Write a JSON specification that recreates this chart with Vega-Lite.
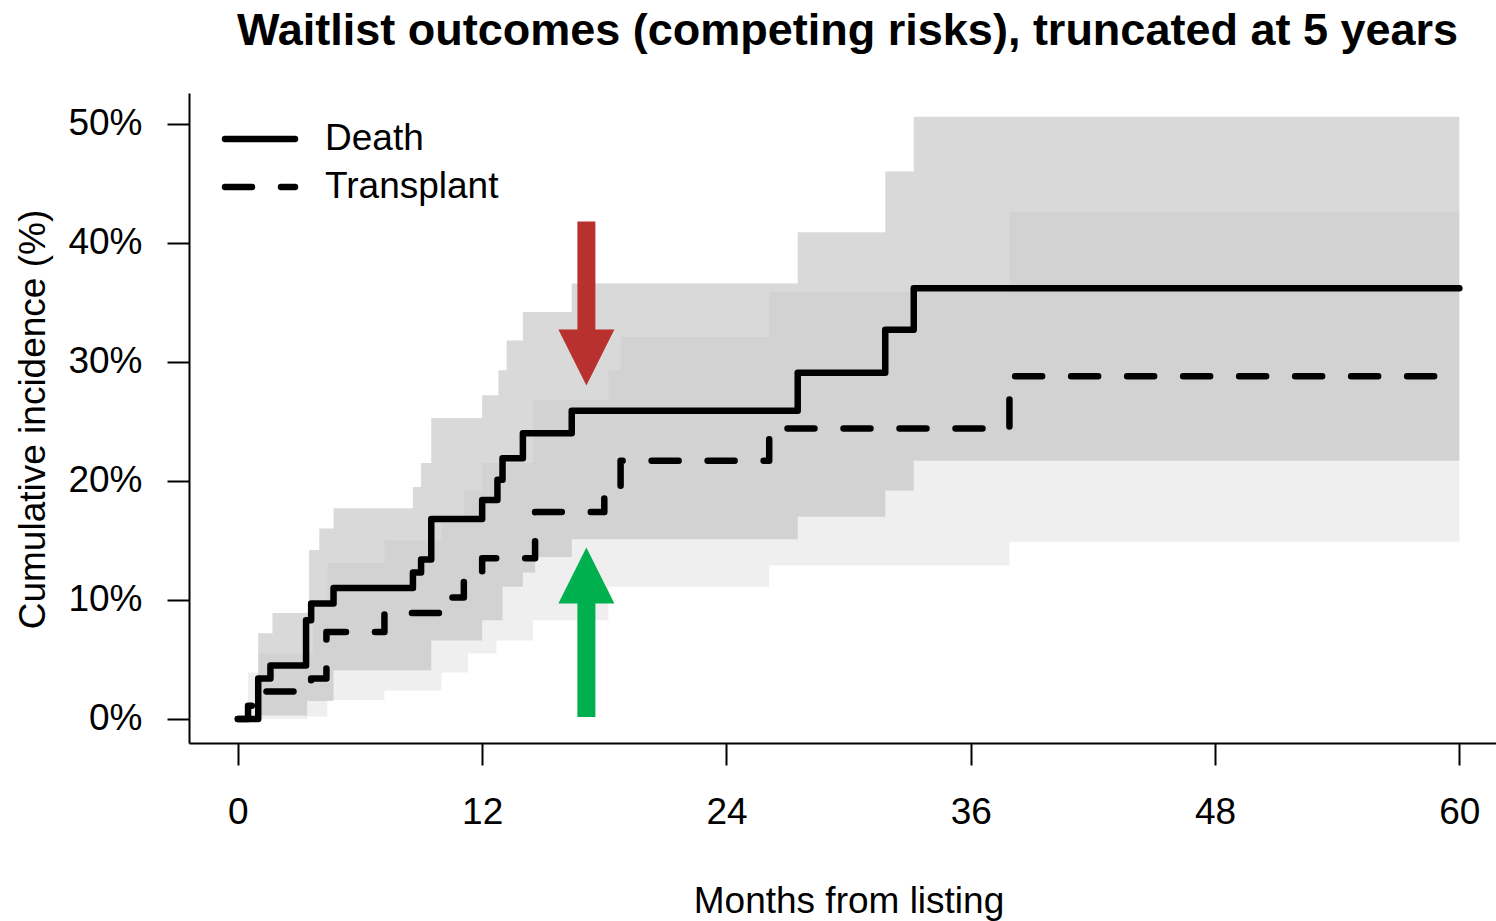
{
  "$schema": "https://vega.github.io/schema/vega-lite/v6.json",
  "width": 1307,
  "height": 650,
  "autosize": {"type": "none"},
  "padding": {"left": 189, "top": 93, "right": 0, "bottom": 178},
  "background": "white",
  "title": {
    "text": "Waitlist outcomes (competing risks), truncated at 5 years",
    "font": "Liberation Sans",
    "fontSize": 45,
    "fontWeight": "bold",
    "color": "black",
    "anchor": "middle",
    "frame": "group",
    "offset": 39,
    "dx": 5
  },
  "config": {
    "view": {"stroke": null},
    "font": "Liberation Sans",
    "axis": {
      "grid": false,
      "domainColor": "black",
      "domainWidth": 2,
      "tickColor": "black",
      "tickWidth": 2,
      "tickSize": 22,
      "labelFont": "Liberation Sans",
      "labelFontSize": 37,
      "labelColor": "black",
      "titleFont": "Liberation Sans",
      "titleFontSize": 37,
      "titleFontWeight": "normal",
      "titleColor": "black"
    }
  },
  "datasets": {
    "deathBand": [
      {"t": 0, "lo": 0, "hi": 0},
      {"t": 1.0, "lo": 0.3, "hi": 7.2},
      {"t": 1.7, "lo": 0.3, "hi": 8.9},
      {"t": 3.4, "lo": 1.5, "hi": 8.9},
      {"t": 3.5, "lo": 1.5, "hi": 14.2},
      {"t": 4.0, "lo": 1.5, "hi": 16.0},
      {"t": 4.7, "lo": 4.1, "hi": 17.7},
      {"t": 8.6, "lo": 4.1, "hi": 19.5},
      {"t": 9.0, "lo": 4.1, "hi": 21.5},
      {"t": 9.5, "lo": 6.6, "hi": 25.3},
      {"t": 12.0, "lo": 8.3, "hi": 27.2},
      {"t": 12.8, "lo": 8.3, "hi": 29.3},
      {"t": 13.0, "lo": 11.1, "hi": 29.3},
      {"t": 13.2, "lo": 11.1, "hi": 31.8},
      {"t": 14.0, "lo": 12.3, "hi": 34.2},
      {"t": 14.6, "lo": 13.6, "hi": 34.2},
      {"t": 16.4, "lo": 15.1, "hi": 36.6},
      {"t": 27.5, "lo": 17.0, "hi": 40.9},
      {"t": 31.8, "lo": 19.2, "hi": 46.0},
      {"t": 33.2, "lo": 21.7, "hi": 50.6},
      {"t": 60, "lo": 21.7, "hi": 50.6}
    ],
    "txBand": [
      {"t": 0, "lo": 0, "hi": 0},
      {"t": 0.5, "lo": 0, "hi": 3.9},
      {"t": 1.0, "lo": 0, "hi": 5.5},
      {"t": 3.4, "lo": 0.2, "hi": 5.5},
      {"t": 3.7, "lo": 0.2, "hi": 9.5},
      {"t": 4.4, "lo": 1.6, "hi": 13.1},
      {"t": 7.2, "lo": 2.4, "hi": 15.0},
      {"t": 10.0, "lo": 3.9, "hi": 17.0},
      {"t": 11.1, "lo": 3.9, "hi": 19.2},
      {"t": 11.3, "lo": 5.5, "hi": 19.2},
      {"t": 12.0, "lo": 5.5, "hi": 21.5},
      {"t": 12.7, "lo": 6.6, "hi": 21.5},
      {"t": 14.5, "lo": 8.3, "hi": 26.8},
      {"t": 18.2, "lo": 11.1, "hi": 29.3},
      {"t": 18.8, "lo": 11.1, "hi": 32.1},
      {"t": 26.1, "lo": 12.9, "hi": 35.9},
      {"t": 37.9, "lo": 14.9, "hi": 42.6},
      {"t": 60, "lo": 14.9, "hi": 42.6}
    ],
    "curves": [
      {"series": "Death", "t": 0, "ci": 0},
      {"series": "Death", "t": 1.0, "ci": 3.4},
      {"series": "Death", "t": 1.6, "ci": 4.5},
      {"series": "Death", "t": 3.35, "ci": 8.3},
      {"series": "Death", "t": 3.6, "ci": 9.7},
      {"series": "Death", "t": 4.7, "ci": 11.0},
      {"series": "Death", "t": 8.6, "ci": 12.3},
      {"series": "Death", "t": 9.0, "ci": 13.4},
      {"series": "Death", "t": 9.5, "ci": 16.8},
      {"series": "Death", "t": 12.0, "ci": 18.4},
      {"series": "Death", "t": 12.75, "ci": 20.1},
      {"series": "Death", "t": 13.0, "ci": 21.9},
      {"series": "Death", "t": 14.0, "ci": 24.0},
      {"series": "Death", "t": 16.4, "ci": 25.9},
      {"series": "Death", "t": 27.5, "ci": 29.1},
      {"series": "Death", "t": 31.8, "ci": 32.7},
      {"series": "Death", "t": 33.2, "ci": 36.2},
      {"series": "Death", "t": 60, "ci": 36.2},
      {"series": "Transplant", "t": 0, "ci": 0},
      {"series": "Transplant", "t": 0.5, "ci": 1.1},
      {"series": "Transplant", "t": 1.0, "ci": 2.3},
      {"series": "Transplant", "t": 3.6, "ci": 3.4},
      {"series": "Transplant", "t": 4.35, "ci": 7.3},
      {"series": "Transplant", "t": 7.2, "ci": 8.9},
      {"series": "Transplant", "t": 10.1, "ci": 10.2},
      {"series": "Transplant", "t": 11.1, "ci": 11.9},
      {"series": "Transplant", "t": 12.0, "ci": 13.5},
      {"series": "Transplant", "t": 14.6, "ci": 17.4},
      {"series": "Transplant", "t": 18.0, "ci": 18.7},
      {"series": "Transplant", "t": 18.8, "ci": 21.7},
      {"series": "Transplant", "t": 26.1, "ci": 24.4},
      {"series": "Transplant", "t": 37.9, "ci": 28.8},
      {"series": "Transplant", "t": 60, "ci": 28.8}
    ],
    "arrows": [
      {"arrow": "red", "t": 17.12, "top": 41.8, "bottom": 32.0, "head": 30.38},
      {"arrow": "green", "t": 17.12, "top": 10.3, "bottom": 0.17, "head": 12.06}
    ]
  },
  "layer": [
    {
      "data": {"name": "txBand"},
      "mark": {"type": "area", "interpolate": "step-after", "fill": "#efefef", "opacity": 1},
      "encoding": {
        "x": {
          "field": "t", "type": "quantitative", "title": "Months from listing",
          "scale": {"domain": [-2.4, 61.8], "nice": false, "zero": false},
          "axis": {
            "values": [0, 12, 24, 36, 48, 60],
            "labelPadding": 29,
            "labelFlush": false,
            "labelOverlap": false,
            "titleX": 659.5,
            "titleY": 169,
            "titleBaseline": "alphabetic",
            "titleAnchor": "middle",
            "titleAlign": "center"
          }
        },
        "y": {
          "field": "hi", "type": "quantitative", "title": "Cumulative incidence (%)",
          "scale": {"domain": [-2.02, 52.6], "nice": false, "zero": false},
          "axis": {
            "values": [0, 10, 20, 30, 40, 50],
            "labelExpr": "datum.value + '%'",
            "labelPadding": 25,
            "labelOverlap": false,
            "labelFlush": false,
            "titleX": -145,
            "titleY": 326,
            "titleBaseline": "alphabetic",
            "titleAngle": 270,
            "titleAlign": "center"
          }
        },
        "y2": {"field": "lo"}
      }
    },
    {
      "data": {"name": "deathBand"},
      "mark": {"type": "area", "interpolate": "step-after", "fill": "#bcbcbc", "opacity": 0.56},
      "encoding": {
        "x": {"field": "t", "type": "quantitative", "title": "Months from listing"},
        "y": {"field": "hi", "type": "quantitative", "title": "Cumulative incidence (%)"},
        "y2": {"field": "lo"}
      }
    },
    {
      "data": {"name": "curves"},
      "mark": {"type": "line", "interpolate": "step-after", "color": "black", "strokeWidth": 6.5, "strokeCap": "round", "strokeJoin": "round"},
      "encoding": {
        "x": {"field": "t", "type": "quantitative", "title": "Months from listing"},
        "y": {"field": "ci", "type": "quantitative", "title": "Cumulative incidence (%)"},
        "detail": {"field": "series"},
        "strokeDash": {
          "field": "series", "type": "nominal",
          "scale": {"domain": ["Death", "Transplant"], "range": [[1, 0], [27, 29]]},
          "legend": {
            "title": null,
            "orient": "none",
            "legendX": 50,
            "legendY": 25,
            "padding": 0,
            "symbolType": "M-2,0L2,0",
            "symbolSize": 1225,
            "symbolStrokeWidth": 6.5,
            "symbolStrokeColor": "black",
            "labelFont": "Liberation Sans",
            "labelFontSize": 37,
            "labelColor": "black",
            "labelOffset": 44,
            "labelLimit": 0,
            "rowPadding": 9,
            "encode": {"symbols": {"update": {"strokeCap": {"value": "round"}}}}
          }
        }
      }
    },
    {
      "data": {"name": "arrows"},
      "mark": {"type": "rule", "strokeWidth": 18, "strokeCap": "butt"},
      "encoding": {
        "x": {"field": "t", "type": "quantitative", "title": "Months from listing"},
        "y": {"field": "top", "type": "quantitative", "title": "Cumulative incidence (%)"},
        "y2": {"field": "bottom"},
        "color": {
          "field": "arrow", "type": "nominal",
          "scale": {"domain": ["red", "green"], "range": ["#b8312f", "#00b04f"]},
          "legend": null
        }
      }
    },
    {
      "data": {"name": "arrows"},
      "mark": {"type": "point", "filled": true, "opacity": 1, "size": 3136, "strokeWidth": 0},
      "encoding": {
        "x": {"field": "t", "type": "quantitative", "title": "Months from listing"},
        "y": {"field": "head", "type": "quantitative", "title": "Cumulative incidence (%)"},
        "color": {"field": "arrow", "type": "nominal", "legend": null},
        "shape": {
          "field": "arrow", "type": "nominal",
          "scale": {"domain": ["red", "green"], "range": ["M-1,-1L1,-1L0,1Z", "M-1,1L1,1L0,-1Z"]},
          "legend": null
        }
      }
    }
  ]
}
